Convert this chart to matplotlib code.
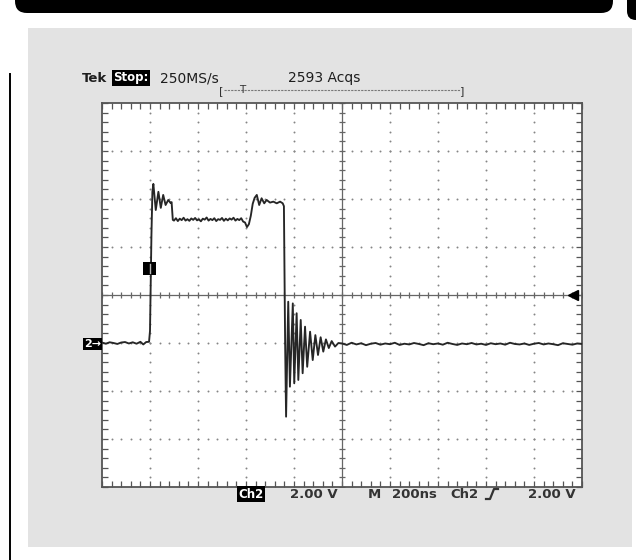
import matplotlib.pyplot as plt
from matplotlib.patches import Rectangle, FancyBboxPatch
import numpy as np

W, H = 636, 560

# scope settings
ns_per_div = 200
volts_per_div = 2.0
screen_centre_v = 2.0      # ch2 ground sits one division below centre
trig_level_v = 2.0

# Ch2 waveform, time in ns from left edge of the screen, level in volts
pre_t = [0, 16, 32, 48, 64, 80, 96, 112, 128, 144, 160, 172, 184, 196]
pre_v = [0.02, -0.03, 0.03, 0.0, -0.04, 0.02, 0.04, -0.02, 0.03, -0.03, 0.05, -0.06, 0.04, 0.05]

rise_t = [200, 206, 210]
rise_v = [0.5, 4.5, 6.3]

ring1_t = [214, 224, 235, 245, 255, 265, 276, 286, 290, 295]
ring1_v = [6.63, 5.54, 6.30, 5.63, 6.17, 5.75, 5.96, 5.83, 5.87, 5.13]

plat1_t = list(range(300, 597, 8))
plat1_v = [5.10, 5.20, 5.08, 5.18, 5.12, 5.22, 5.10, 5.16, 5.09, 5.19,
           5.13, 5.21, 5.11, 5.15, 5.07, 5.18, 5.14, 5.23, 5.10, 5.17,
           5.12, 5.20, 5.08, 5.16, 5.13, 5.21, 5.09, 5.18, 5.11, 5.19,
           5.14, 5.22, 5.10, 5.17, 5.12, 5.20, 5.06, 5.02]

step_t = [604, 612, 620, 628, 636]
step_v = [4.83, 4.95, 5.30, 5.80, 6.05]

ring2_t = [645, 655, 665, 676, 686, 700, 714, 728, 742, 753]
ring2_v = [6.17, 5.75, 6.03, 5.82, 5.96, 5.85, 5.89, 5.82, 5.89, 5.82]

fall_t = [758, 763]
fall_v = [5.70, 0.0]

ring3_t = [767, 776, 783, 795, 801, 811, 818, 828, 836, 846, 855,
           867, 878, 889, 900, 911, 922, 933, 945, 957, 971, 985]
ring3_v = [-3.07, 1.72, -1.82, 1.65, -1.68, 1.24, -1.54, 0.96, -1.26, 0.68, -0.99,
           0.47, -0.71, 0.33, -0.50, 0.24, -0.36, 0.15, -0.21, 0.08, -0.15, 0.0]

post_t = list(range(1000, 2001, 20))
post_v = [-0.02, -0.08, 0.01, -0.06, -0.01, -0.09, -0.03, 0.00, -0.07, -0.02,
          -0.05, 0.01, -0.08, -0.03, -0.06, 0.00, -0.04, -0.09, -0.01, -0.05,
          -0.02, -0.07, 0.01, -0.04, -0.08, -0.02, -0.05, 0.00, -0.06, -0.03,
          -0.08, -0.01, -0.05, -0.02, -0.07, 0.01, -0.04, -0.06, -0.02, -0.08,
          -0.03, 0.00, -0.06, -0.02, -0.05, -0.09, -0.01, -0.04, -0.07, -0.02,
          -0.04]

t = pre_t + rise_t + ring1_t + plat1_t + step_t + ring2_t + fall_t + ring3_t + post_t
v = pre_v + rise_v + ring1_v + plat1_v + step_v + ring2_v + fall_v + ring3_v + post_v

fig = plt.figure(figsize=(W / 100, H / 100), dpi=100)
fig.patch.set_facecolor('white')

# background layer in pixel units
back = fig.add_axes([0, 0, 1, 1], zorder=0)
back.set_xlim(0, W)
back.set_ylim(H, 0)
back.axis('off')

back.add_patch(FancyBboxPatch((15, -40), 598, 53, boxstyle="round,pad=0,rounding_size=12",
                              fc='black', ec='none'))
back.add_patch(FancyBboxPatch((627, -40), 40, 60, boxstyle="round,pad=0,rounding_size=9",
                              fc='black', ec='none'))
back.add_patch(Rectangle((28, 28), 604, 519, fc='#e3e3e3', ec='none'))
back.plot([10, 10], [74, 560], color='black', lw=1.4)

# scope screen
x0, y0, sw, sh = 102, 103, 480, 384
ax = fig.add_axes([x0 / W, 1 - (y0 + sh) / H, sw / W, sh / H], zorder=1)
tmax = 10 * ns_per_div
vmin = screen_centre_v - 4 * volts_per_div
vmax = screen_centre_v + 4 * volts_per_div
ax.set_xlim(0, tmax)
ax.set_ylim(vmin, vmax)
ax.set_facecolor('white')
for s in ax.spines.values():
    s.set_color('#555555')
    s.set_linewidth(1.3)

minor_t = np.arange(0, tmax + 1, ns_per_div / 5)
minor_v = np.arange(vmin, vmax + 0.01, volts_per_div / 5)
major_t = np.arange(0, tmax + 1, ns_per_div)
major_v = np.arange(vmin, vmax + 0.01, volts_per_div)
ax.set_xticks(major_t)
ax.set_xticks(minor_t, minor=True)
ax.set_yticks(major_v)
ax.set_yticks(minor_v, minor=True)
ax.tick_params(which='both', direction='in', top=True, right=True, length=4,
               width=0.9, color='#555555', labelbottom=False, labelleft=False)

# dotted graticule
for xg in major_t[1:-1]:
    if xg != tmax / 2:
        ax.plot([xg] * len(minor_v), minor_v, ls='none', marker='o', ms=1.4,
                mec='none', mfc='#858585')
for yg in major_v[1:-1]:
    if yg != screen_centre_v:
        ax.plot(minor_t, [yg] * len(minor_t), ls='none', marker='o', ms=1.4,
                mec='none', mfc='#858585')

# centre crosshair with minor tick marks
ax.axhline(screen_centre_v, color='#666666', lw=0.9)
ax.axvline(tmax / 2, color='#666666', lw=0.9)
ax.plot(minor_t, [screen_centre_v] * len(minor_t), ls='none', marker='|', ms=5,
        mew=0.9, color='#666666')
ax.plot([tmax / 2] * len(minor_v), minor_v, ls='none', marker='_', ms=5,
        mew=0.9, color='#666666')

# trace
ax.plot(t, v, color='#262626', lw=1.35, zorder=5)

# trigger level arrow
ax.plot([1962], [trig_level_v], marker='<', ms=7, color='black', mec='black',
        zorder=6, clip_on=False)

# foreground layer for readouts
front = fig.add_axes([0, 0, 1, 1], zorder=3)
front.set_xlim(0, W)
front.set_ylim(H, 0)
front.axis('off')
front.patch.set_alpha(0)

tc = '#1e1e1e'
front.text(82, 78, 'Tek', fontsize=9.5, fontweight='bold', color=tc, va='center', ha='left')
front.text(113, 78, 'Stop:', fontsize=8.5, fontweight='bold', color='white', va='center',
           ha='left', bbox=dict(boxstyle='square,pad=0.12', fc='black', ec='none'))
front.text(160, 78, '250MS/s', fontsize=10, color=tc, va='center', ha='left')
front.text(288, 78, '2593 Acqs', fontsize=10, color=tc, va='center', ha='left')

# acquisition record bracket
front.plot([224, 460], [90, 90], color='#777777', lw=0.8, dashes=(2, 1))
front.text(221, 91, '[', fontsize=8, color='#333333', va='center', ha='center')
front.text(462, 91, ']', fontsize=8, color='#333333', va='center', ha='center')
front.text(242, 90, 'T', fontsize=7.5, color='#333333', va='center', ha='center')

# channel ground marker
front.text(84, 344, '2→', fontsize=8, fontweight='bold', color='white', va='center',
           ha='left', bbox=dict(boxstyle='square,pad=0.1', fc='black', ec='none'))
# trigger position marker on the trace
front.add_patch(Rectangle((143, 262), 13, 13, fc='black', ec='none'))
front.plot([149.5, 149.5], [264, 273], color='#bbbbbb', lw=1)

bc = '#333333'
front.text(238, 494, 'Ch2', fontsize=8.5, fontweight='bold', color='white', va='center',
           ha='left', bbox=dict(boxstyle='square,pad=0.12', fc='black', ec='none'))
front.text(290, 494, '2.00 V', fontsize=9.5, fontweight='bold', color=bc, va='center', ha='left')
front.text(368, 494, 'M', fontsize=9.5, fontweight='bold', color=bc, va='center', ha='left')
front.text(392, 494, '200ns', fontsize=9.5, fontweight='bold', color=bc, va='center', ha='left')
front.text(450, 494, 'Ch2', fontsize=9.5, fontweight='bold', color=bc, va='center', ha='left')
front.plot([486, 490, 494, 498], [499, 499, 489, 489], color=bc, lw=1.6)
front.text(528, 494, '2.00 V', fontsize=9.5, fontweight='bold', color=bc, va='center', ha='left')

fig.savefig('out.png', dpi=100)
